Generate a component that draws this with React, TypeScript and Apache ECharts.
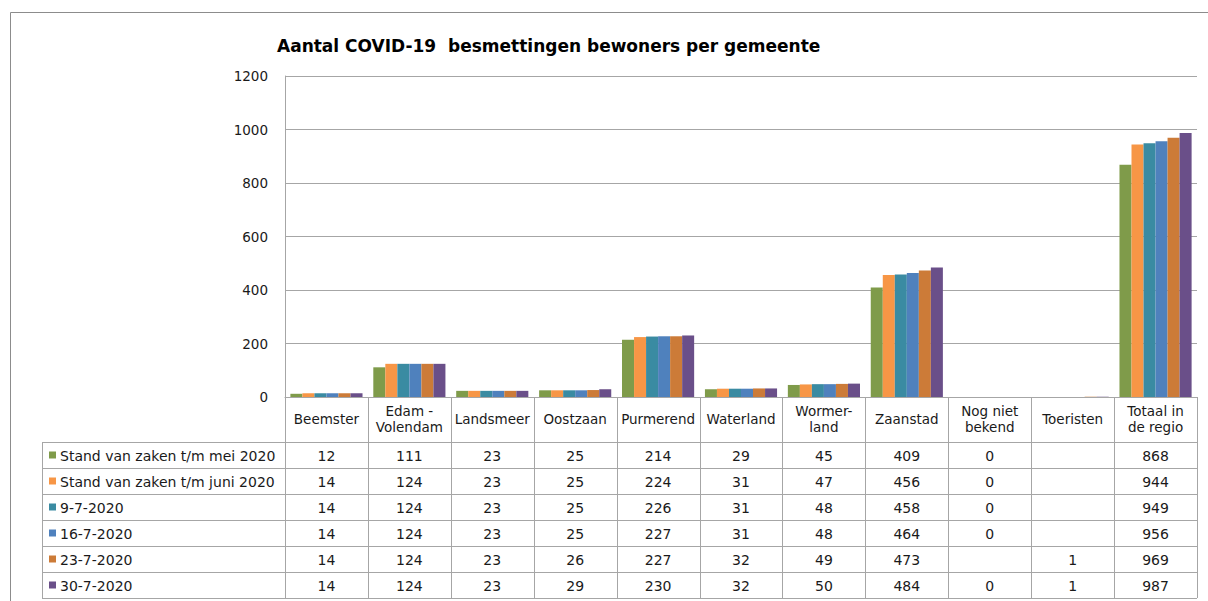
import React, { useEffect, useRef } from "react";
import * as echarts from "echarts";

const categories = [
  "Beemster",
  "Edam -\nVolendam",
  "Landsmeer",
  "Oostzaan",
  "Purmerend",
  "Waterland",
  "Wormer-\nland",
  "Zaanstad",
  "Nog niet\nbekend",
  "Toeristen",
  "Totaal in\nde regio",
];

const seriesNames = [
  "Stand van zaken t/m mei 2020",
  "Stand van zaken t/m juni 2020",
  "9-7-2020",
  "16-7-2020",
  "23-7-2020",
  "30-7-2020",
];

const standMei = [12, 111, 23, 25, 214, 29, 45, 409, 0, null, 868];
const standJuni = [14, 124, 23, 25, 224, 31, 47, 456, 0, null, 944];
const d9_7 = [14, 124, 23, 25, 226, 31, 48, 458, 0, null, 949];
const d16_7 = [14, 124, 23, 25, 227, 31, 48, 464, 0, null, 956];
const d23_7 = [14, 124, 23, 26, 227, 32, 49, 473, null, 1, 969];
const d30_7 = [14, 124, 23, 29, 230, 32, 50, 484, 0, 1, 987];

const seriesValues = [standMei, standJuni, d9_7, d16_7, d23_7, d30_7];
const colors = ["#7f9b4a", "#f79646", "#3a8ba2", "#4f81bd", "#cc7b38", "#6a4f89"];

const yMin = 0;
const yMax = 1200;
const yInterval = 200;

const FONT = "DejaVu Sans";

export default function App() {
  const ref = useRef<HTMLDivElement>(null);

  useEffect(() => {
    if (!ref.current) return;
    const chart = echarts.init(ref.current, undefined, { renderer: "svg" });

    const W = 1208;
    const H = 601;
    const gridLeft = 285;
    const gridRight = 1197;
    const gridTop = 76;
    const gridBottom = 397;
    const colW = (gridRight - gridLeft) / categories.length;
    const tableLeft = 42;
    const headerBottom = 442;
    const rowH = 26;
    const lineColor = "#a6a6a6";

    const graphics: any[] = [];
    graphics.push({
      type: "line",
      shape: { x1: 10.5, y1: 12.5, x2: W, y2: 12.5 },
      style: { stroke: "#8c8c8c", lineWidth: 1 },
    });
    graphics.push({
      type: "line",
      shape: { x1: 10.5, y1: 12.5, x2: 10.5, y2: H },
      style: { stroke: "#8c8c8c", lineWidth: 1 },
    });

    const nRows = seriesNames.length;
    const tableBottom = headerBottom + nRows * rowH;
    for (let r = 0; r <= nRows; r++) {
      const y = Math.round(headerBottom + r * rowH) + 0.5;
      graphics.push({
        type: "line",
        shape: { x1: tableLeft, y1: y, x2: gridRight, y2: y },
        style: { stroke: lineColor, lineWidth: 1 },
      });
    }
    graphics.push({
      type: "line",
      shape: { x1: tableLeft + 0.5, y1: headerBottom, x2: tableLeft + 0.5, y2: tableBottom },
      style: { stroke: lineColor, lineWidth: 1 },
    });
    for (let c = 0; c <= categories.length; c++) {
      const x = Math.round(gridLeft + c * colW) + 0.5;
      graphics.push({
        type: "line",
        shape: { x1: x, y1: gridBottom, x2: x, y2: tableBottom },
        style: { stroke: lineColor, lineWidth: 1 },
      });
    }
    for (let r = 0; r < nRows; r++) {
      const cy = headerBottom + r * rowH + rowH / 2 + 0.5;
      graphics.push({
        type: "rect",
        shape: { x: 49, y: cy - 4, width: 7, height: 7 },
        style: { fill: colors[r] },
      });
      graphics.push({
        type: "text",
        style: {
          text: seriesNames[r],
          x: 60,
          y: cy,
          align: "left",
          verticalAlign: "middle",
          fontSize: 14,
          fontFamily: FONT,
          fill: "#1a1a1a",
        },
      });
      const vals = seriesValues[r];
      for (let c = 0; c < categories.length; c++) {
        const v = vals[c];
        if (v === null || v === undefined) continue;
        graphics.push({
          type: "text",
          style: {
            text: String(v),
            x: gridLeft + c * colW + colW / 2,
            y: cy,
            align: "center",
            verticalAlign: "middle",
            fontSize: 14,
            fontFamily: FONT,
            fill: "#1a1a1a",
          },
        });
      }
    }

    chart.setOption({
      animation: false,
      backgroundColor: "#ffffff",
      title: {
        text: "Aantal COVID-19  besmettingen bewoners per gemeente",
        left: 272,
        top: 32,
        textStyle: {
          fontFamily: FONT,
          fontWeight: "bold",
          fontSize: 17,
          color: "#000000",
        },
      },
      grid: {
        left: gridLeft,
        right: W - gridRight,
        top: gridTop,
        bottom: H - gridBottom,
        containLabel: false,
      },
      xAxis: {
        type: "category",
        data: categories,
        axisLine: { show: true, lineStyle: { color: lineColor, width: 1 } },
        axisTick: { show: false },
        axisLabel: {
          interval: 0,
          margin: 22,
          verticalAlign: "middle",
          fontFamily: FONT,
          fontSize: 13.5,
          lineHeight: 16,
          color: "#1a1a1a",
        },
      },
      yAxis: {
        type: "value",
        min: yMin,
        max: yMax,
        interval: yInterval,
        axisLine: { show: true, lineStyle: { color: lineColor, width: 1 } },
        axisTick: { show: false },
        splitLine: { show: true, lineStyle: { color: lineColor, width: 1 } },
        axisLabel: {
          margin: 17,
          fontFamily: FONT,
          fontSize: 13.5,
          color: "#1a1a1a",
          formatter: (v: number) => String(v),
        },
      },
      series: seriesNames.map((name, i) => ({
        name,
        type: "bar",
        data: seriesValues[i],
        itemStyle: { color: colors[i] },
        barGap: "0%",
        barCategoryGap: "13%",
      })),
      graphic: graphics,
    });

    return () => chart.dispose();
  }, []);

  return (
    <div
      ref={ref}
      style={{ position: "absolute", left: 0, top: 0, width: 1208, height: 601 }}
    />
  );
}
